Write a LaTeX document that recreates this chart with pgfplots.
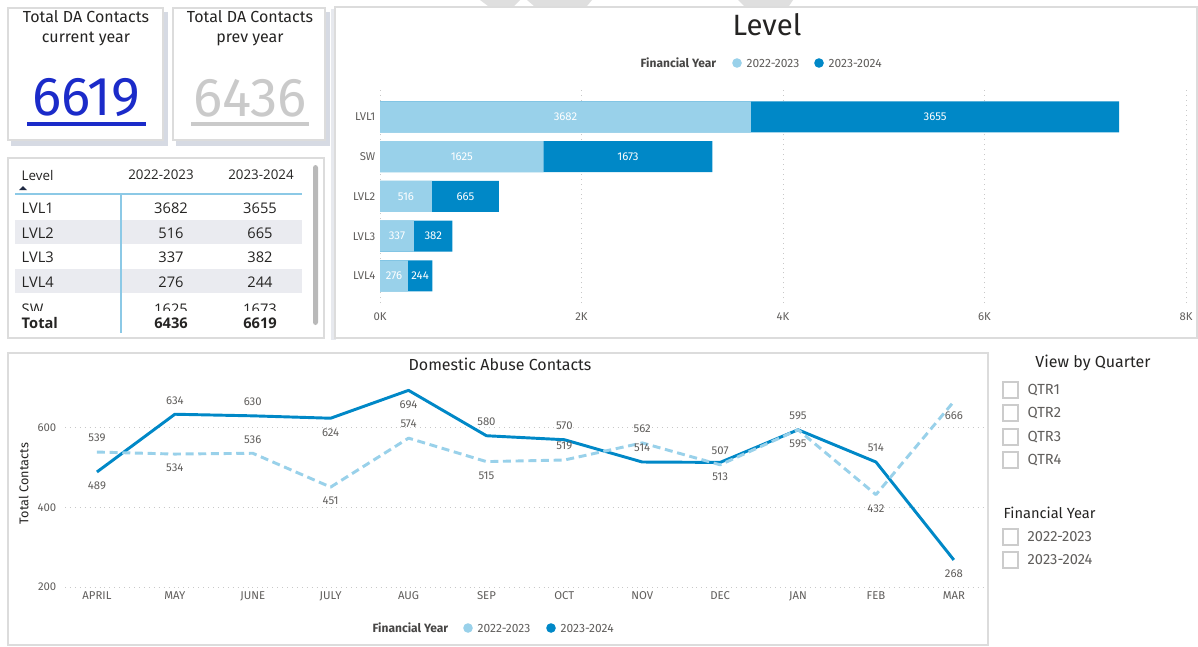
\documentclass[border=0pt]{standalone}
\usepackage{fontspec}
\setmainfont{Fira Sans}
\newfontfamily\tablefont{Open Sans}
\usepackage{pgfplots}
\pgfplotsset{compat=1.18}
\usepackage{pgfplotstable}
\definecolor{lightb}{HTML}{99D1EA}
\definecolor{darkb}{HTML}{0088C7}
\definecolor{txtgrey}{HTML}{605E5C}
\definecolor{txtdark}{HTML}{252423}
\definecolor{gridc}{HTML}{C8C8C8}
\definecolor{panelb}{HTML}{DCDCDC}
\definecolor{shadowc}{HTML}{D6DAE3}
\definecolor{kpiblue}{HTML}{1B2BC9}
\definecolor{kpigrey}{HTML}{CACACA}
\definecolor{rowshade}{HTML}{EAEBF0}
\definecolor{tline}{HTML}{8CC9E6}
\definecolor{navy}{HTML}{1F2A44}
\newcommand{\fs}[1]{\fontsize{#1}{#1}\selectfont}

\pgfplotstableread{
y lvl a b
4 LVL1 3682 3655
3 SW 1625 1673
2 LVL2 516 665
1 LVL3 337 382
0 LVL4 276 244
}\levels

\pgfplotstableread{
m prev cur offp offc
0 539 489 1 -1
1 534 634 -1 1
2 536 630 1 1
3 451 624 -1 -1
4 574 694 1 -1
5 515 580 -1 1
6 519 570 1 1
7 562 514 1 1
8 507 513 1 -1
9 595 595 -1 1
10 432 514 -1 1
11 666 268 -1 -1
}\monthly

\begin{document}
\begin{tikzpicture}
\path[use as bounding box, fill=white] (0,0) rectangle (898.5pt,-484.5pt);
\begin{scope}[x=0.75pt,y=-0.75pt]
% top artifacts
\fill[gray!25] (480,0)--(520,0)--(514,6)--(488,6)--cycle;
\fill[gray!25] (527,0)--(592,0)--(587,6)--(534,6)--cycle;
\fill[gray!25] (738,0)--(793,0)--(789,6)--(744,6)--cycle;
% shadows
\fill[shadowc] (11,12) rectangle (168,146);
\fill[shadowc] (176,12) rectangle (330,146);
\fill[shadowc!60] (331,9) rectangle (336,340);
% panels
\draw[panelb, fill=white, line width=0.8pt] (8,8) rectangle (163,140);
\draw[panelb, fill=white, line width=0.8pt] (173,8) rectangle (325,140);
\draw[panelb, fill=white, line width=0.8pt] (8,158) rectangle (324,338);
\draw[panelb, fill=white, line width=0.8pt] (335,7) rectangle (1197,338);
\draw[panelb, fill=white, line width=0.8pt] (8,353) rectangle (988,645);
% cards
\node[align=center, text=txtdark, font=\fontsize{12}{15}\selectfont] at (86,28) {Total DA Contacts\\current year};
\node[align=center, text=txtdark, font=\fontsize{12}{15}\selectfont] at (250,28) {Total DA Contacts\\prev year};
\node[text=kpiblue, font=\fs{41}] at (86,98) {6619};
\draw[kpiblue, line width=2.4pt] (27,124)--(146,124);
\node[text=kpigrey, font=\fs{41}] at (250,98) {6436};
\draw[kpigrey, line width=2.4pt] (191,124)--(309,124);
% table
\fill[rowshade] (15,220) rectangle (302,244);
\fill[rowshade] (15,269) rectangle (302,293);
\begin{scope}[font=\tablefont\fs{10}, text=txtdark]
\node[anchor=west] at (17,175) {Level};
\node at (161,175) {2022-2023};
\node at (261,175) {2023-2024};
\end{scope}
\fill[navy] (19,190)--(27,190)--(23,186)--cycle;
\draw[tline, line width=1.2pt] (15,194)--(302,194);
\draw[tline, line width=1pt] (121,194)--(121,333);
\begin{scope}[font=\tablefont\fs{11}, text=txtdark]
\node[anchor=west] at (17,208) {LVL1}; \node at (171,208) {3682}; \node at (260,208) {3655};
\node[anchor=west] at (17,233) {LVL2}; \node at (171,233) {516}; \node at (260,233) {665};
\node[anchor=west] at (17,257) {LVL3}; \node at (171,257) {337}; \node at (260,257) {382};
\node[anchor=west] at (17,282) {LVL4}; \node at (171,282) {276}; \node at (260,282) {244};
\begin{scope}
\clip (10,196) rectangle (310,310);
\node[anchor=west] at (17,309) {SW}; \node at (171,309) {1625}; \node at (260,309) {1673};
\end{scope}
\node[anchor=west, font=\tablefont\bfseries\fs{11}] at (17,323) {Total};
\node[font=\tablefont\bfseries\fs{11}] at (171,323) {6436};
\node[font=\tablefont\bfseries\fs{11}] at (260,323) {6619};
\end{scope}
\fill[gray!55, rounded corners=2pt] (313,165) rectangle (318,325);
% bar chart title & legend
\node[text=txtdark, font=\fs{22}] at (767,25) {Level};
\node[anchor=west, text=txtdark!85, font=\bfseries\fs{9}] at (636,63) {Financial Year};
\fill[lightb] (737,63) circle (3.6pt);
\node[anchor=west, text=txtgrey, font=\fs{9}] at (742,63) {2022-2023};
\fill[darkb] (819,63) circle (3.6pt);
\node[anchor=west, text=txtgrey, font=\fs{9}] at (824,63) {2023-2024};
% line chart title & legend
\node[text=txtdark, font=\fs{12}] at (500,364) {Domestic Abuse Contacts};
\node[anchor=west, text=txtdark!85, font=\bfseries\fs{9}] at (368,628) {Financial Year};
\fill[lightb] (468,628) circle (3.6pt);
\node[anchor=west, text=txtgrey, font=\fs{9}] at (473,628) {2022-2023};
\fill[darkb] (551,628) circle (3.6pt);
\node[anchor=west, text=txtgrey, font=\fs{9}] at (556,628) {2023-2024};
% slicers
\node[text=txtdark, font=\fs{12}] at (1093,363) {View by Quarter};
\foreach \yy/\tt in {390/QTR1,413/QTR2,437/QTR3,460/QTR4}{
  \draw[gray!40, line width=0.8pt] (1003,\yy-8) rectangle (1018,\yy+8);
  \node[anchor=west, text=txtgrey, font=\fs{11}] at (1023,\yy) {\tt};
}
\node[anchor=west, text=txtdark, font=\fs{11}] at (999,513) {Financial Year};
\foreach \yy/\tt in {537/2022-2023,560/2023-2024}{
  \draw[gray!40, line width=0.8pt] (1003,\yy-8) rectangle (1018,\yy+8);
  \node[anchor=west, text=txtgrey, font=\fs{11}] at (1023,\yy) {\tt};
}
\end{scope}

% ---------- bar chart ----------
\begin{axis}[
  at={(285pt,-227.25pt)}, anchor=south west,
  scale only axis, width=604.5pt, height=160.5pt,
  xmin=0, xmax=8000, ymin=-0.68, ymax=4.7,
  axis line style={draw=none}, tick style={draw=none},
  xtick={0,2000,4000,6000,8000}, xticklabels={0K,2K,4K,6K,8K},
  ytick={0,1,2,3,4}, yticklabels={LVL4,LVL3,LVL2,SW,LVL1},
  xmajorgrids, grid style={gridc, line width=0.7pt, dash pattern=on 0.7pt off 3pt},
  ticklabel style={font=\fs{8.5}, text=txtgrey},
  xticklabel style={yshift=-4pt},
  /pgf/number format/assume math mode=true,
  clip=false,
]
\addplot[xbar, bar width=23.25pt, bar shift=0pt, fill=darkb, draw=none]
  table[x expr=\thisrow{a}+\thisrow{b}, y=y] {\levels};
\addplot[xbar, bar width=23.25pt, bar shift=0pt, fill=lightb, draw=none]
  table[x=a, y=y] {\levels};
\addplot[draw=none, nodes near coords, point meta=explicit symbolic,
  every node near coord/.append style={anchor=center, text=white, font=\fs{8.5}}]
  table[x expr=\thisrow{a}/2, y=y, meta=a] {\levels};
\addplot[draw=none, nodes near coords, point meta=explicit symbolic,
  every node near coord/.append style={anchor=center, text=white, font=\fs{8.5}}]
  table[x expr=\thisrow{a}+\thisrow{b}/2, y=y, meta=b] {\levels};
\end{axis}

% ---------- line chart ----------
\begin{axis}[
  at={(48.75pt,-440.25pt)}, anchor=south west,
  scale only axis, width=690pt, height=155.25pt,
  xmin=-0.41, xmax=11.4, ymin=200, ymax=720,
  axis line style={draw=none}, tick style={draw=none},
  xtick={0,...,11},
  xticklabels={APRIL,MAY,JUNE,JULY,AUG,SEP,OCT,NOV,DEC,JAN,FEB,MAR},
  ytick={200,400,600},
  ymajorgrids, grid style={gridc, line width=0.7pt, dash pattern=on 0.7pt off 3pt},
  ticklabel style={font=\fs{8.5}, text=txtgrey},
  yticklabel style={xshift=-3pt},
  ylabel={Total Contacts}, ylabel style={font=\fs{9.5}, text=txtdark},
  /pgf/number format/assume math mode=true,
  clip=false,
]
\addplot[darkb, line width=2.2pt, line join=round] table[x=m, y=cur] {\monthly};
\addplot[lightb, line width=2.2pt, line join=round, dash pattern=on 6pt off 3.5pt] table[x=m, y=prev] {\monthly};
\addplot[draw=none, nodes near coords, point meta=explicit symbolic,
  visualization depends on={\thisrow{offc} \as \off},
  every node near coord/.append style={anchor=center, text=txtgrey, font=\fs{8.5}, yshift=\off*10.5pt}]
  table[x=m, y=cur, meta=cur] {\monthly};
\addplot[draw=none, nodes near coords, point meta=explicit symbolic,
  visualization depends on={\thisrow{offp} \as \off},
  every node near coord/.append style={anchor=center, text=txtgrey, font=\fs{8.5}, yshift=\off*10.5pt}]
  table[x=m, y=prev, meta=prev] {\monthly};
\end{axis}
\end{tikzpicture}
\end{document}
